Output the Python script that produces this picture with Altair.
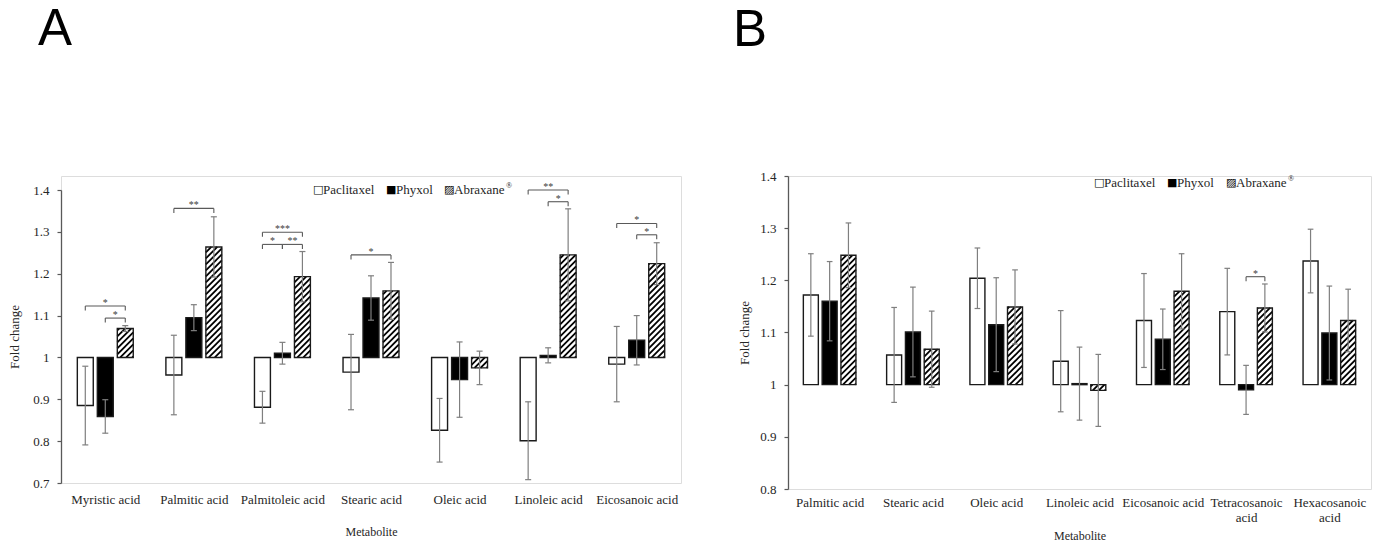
import altair as alt
import pandas as pd

GROUPS = ["Paclitaxel", "Phyxol", "Abraxane"]

# ---------------- Panel A data ----------------
CATS_A = ["Myristic acid", "Palmitic acid", "Palmitoleic acid", "Stearic acid",
          "Oleic acid", "Linoleic acid", "Eicosanoic acid"]
PAC_A = [0.885, 0.958, 0.881, 0.965, 0.826, 0.801, 0.984]
PAC_A_ERR = [0.094, 0.095, 0.038, 0.090, 0.076, 0.093, 0.090]
PHY_A = [0.859, 1.095, 1.010, 1.142, 0.947, 1.005, 1.041]
PHY_A_ERR = [0.040, 0.031, 0.026, 0.053, 0.090, 0.018, 0.059]
ABR_A = [1.069, 1.264, 1.193, 1.159, 0.975, 1.245, 1.224]
ABR_A_ERR = [0.007, 0.072, 0.060, 0.068, 0.040, 0.110, 0.050]

# significance brackets A: category index, from group, to group, level, label
BR_A_CAT = [0, 0, 1, 2, 2, 2, 3, 5, 5, 6, 6]
BR_A_FROM = [0, 1, 0, 0, 0, 1, 0, 0, 1, 0, 1]
BR_A_TO = [2, 2, 2, 2, 1, 2, 2, 2, 2, 2, 2]
BR_A_LEVEL = [1.123, 1.094, 1.356, 1.299, 1.270, 1.270, 1.245, 1.400, 1.372, 1.320, 1.293]
BR_A_LABEL = ["*", "*", "**", "***", "*", "**", "*", "**", "*", "*", "*"]

# ---------------- Panel B data ----------------
CATS_B = ["Palmitic acid", "Stearic acid", "Oleic acid", "Linoleic acid",
          "Eicosanoic acid", "Tetracosanoic|acid", "Hexacosanoic|acid"]
PAC_B = [1.172, 1.057, 1.204, 1.045, 1.123, 1.140, 1.237]
PAC_B_ERR = [0.079, 0.091, 0.058, 0.097, 0.090, 0.083, 0.061]
PHY_B = [1.160, 1.101, 1.115, 1.002, 1.087, 0.990, 1.099]
PHY_B_ERR = [0.076, 0.086, 0.090, 0.070, 0.058, 0.047, 0.090]
ABR_B = [1.248, 1.068, 1.149, 0.989, 1.179, 1.147, 1.123]
ABR_B_ERR = [0.062, 0.073, 0.071, 0.069, 0.072, 0.046, 0.060]

BR_B_CAT = [5]
BR_B_FROM = [1]
BR_B_TO = [2]
BR_B_LEVEL = [1.207]
BR_B_LABEL = ["*"]

LEGEND_SYMBOLS = ["□", "■", "▨"]
LEGEND_LABELS = ["Paclitaxel", "Phyxol", "Abraxane"]

SERIF = "Liberation Serif"
TXT = "#262626"
AXC = "#595959"


def long_df(pac, pac_e, phy, phy_e, abr, abr_e):
    rows = []
    series = [(pac, pac_e), (phy, phy_e), (abr, abr_e)]
    for i in range(len(pac)):
        for g, (vals, errs) in enumerate(series):
            rows.append({"i": i, "g": g, "grp": GROUPS[g], "value": vals[i], "err": errs[i]})
    return pd.DataFrame(rows)


def br_df(cat, fr, to, level, label):
    return pd.DataFrame({"i": cat, "ga": fr, "gb": to, "level": level, "label": label})


def panel(df, bdf, cats, width, height, top, ymin, ymax, yvals, letter, tdx, toffset,
          leg, label_padding, title_padding, ytitle_padding):
    kx = width / 7.0
    ky = (height - top) / (ymax - ymin)
    OFF = 0.2257
    HALF = 0.09
    CAP = 0.034
    S = 6.0  # hatch spacing in px (vertical)

    lab = "split([" + ",".join("'%s'" % c for c in cats) + "][datum.value], '|')"
    xscale = alt.Scale(domain=[-0.5, 6.5], nice=False, zero=False)
    yscale = alt.Scale(domain=[ymin, ymax], nice=False, zero=False, range=[height, top])
    xaxis = alt.Axis(values=list(range(7)), labelExpr=lab, title="Metabolite", grid=False,
                     domain=False, ticks=False, labelFont=SERIF, labelFontSize=13,
                     labelColor=TXT, labelPadding=label_padding, labelOverlap=False,
                     labelFlush=False, labelLineHeight=15, titleFont=SERIF,
                     titleFontSize=12, titleFontWeight="normal", titleColor=TXT,
                     titlePadding=title_padding)
    yaxis = alt.Axis(values=yvals, format=".1~f", title="Fold change", grid=False,
                     tickSize=4, tickColor=AXC, domainColor=AXC, domainWidth=1.3,
                     tickWidth=1.2, labelFont=SERIF, labelFontSize=13, labelColor=TXT,
                     labelPadding=8, titleFont=SERIF, titleFontSize=13,
                     titleFontWeight="normal", titleColor=TXT, titlePadding=ytitle_padding)

    def X(f):
        return alt.X(f, type="quantitative", scale=xscale, axis=xaxis)

    def Y(f):
        return alt.Y(f, type="quantitative", scale=yscale, axis=yaxis)

    base = alt.Chart(df).transform_calculate(
        xc=f"datum.i + (datum.g - 1) * {OFF}",
    ).transform_calculate(
        xl=f"datum.xc - {HALF}", xr=f"datum.xc + {HALF}", base="1",
        elo="datum.value - datum.err", ehi="datum.value + datum.err",
        cl=f"datum.xc - {CAP}", cr=f"datum.xc + {CAP}",
    )

    fills = base.mark_rect(strokeWidth=0).encode(
        x=X("xl"), x2="xr", y=Y("value"), y2="base",
        fill=alt.Fill("grp:N", scale=alt.Scale(domain=GROUPS, range=["white", "black", "white"]),
                      legend=None),
    )

    hatch = base.transform_filter("datum.g == 2").transform_calculate(
        W=f"{2 * HALF} * {kx}",
        H=f"abs(datum.value - 1) * {ky}",
        lo="min(datum.value, 1)",
        ks="sequence(0, 45)",
    ).transform_flatten(["ks"], as_=["k"]).transform_calculate(
        c=f"-datum.W + datum.k * {S} + 1",
    ).transform_calculate(
        us="max(0, -datum.c)", ue="min(datum.W, datum.H - datum.c)",
    ).transform_filter("datum.ue - datum.us > 0.4").transform_calculate(
        hx1=f"datum.xl + datum.us / {kx}",
        hy1=f"datum.lo + (datum.us + datum.c) / {ky}",
        hx2=f"datum.xl + datum.ue / {kx}",
        hy2=f"datum.lo + (datum.ue + datum.c) / {ky}",
    ).mark_rule(color="black", strokeWidth=1.8).encode(
        x=X("hx1"), y=Y("hy1"), x2="hx2", y2="hy2",
    )

    outline = base.mark_rect(fillOpacity=0, stroke="#1a1a1a", strokeWidth=1.4).encode(
        x=X("xl"), x2="xr", y=Y("value"), y2="base",
    )

    err = base.mark_rule(color="#7f7f7f", strokeWidth=1.2).encode(
        x=X("xc"), y=Y("elo"), y2="ehi")
    cap_lo = base.mark_rule(color="#7f7f7f", strokeWidth=1.2).encode(
        x=X("cl"), x2="cr", y=Y("elo"))
    cap_hi = base.mark_rule(color="#7f7f7f", strokeWidth=1.2).encode(
        x=X("cl"), x2="cr", y=Y("ehi"))

    bb = alt.Chart(bdf).transform_calculate(
        xa=f"datum.i + (datum.ga - 1) * {OFF}",
        xb=f"datum.i + (datum.gb - 1) * {OFF}",
        yt=f"datum.level - {4.5 / ky}",
    ).transform_calculate(xm="(datum.xa + datum.xb) / 2")
    br_h = bb.mark_rule(color=AXC, strokeWidth=1.1).encode(x=X("xa"), x2="xb", y=Y("level"))
    br_l = bb.mark_rule(color=AXC, strokeWidth=1.1).encode(x=X("xa"), y=Y("yt"), y2="level")
    br_r = bb.mark_rule(color=AXC, strokeWidth=1.1).encode(x=X("xb"), y=Y("yt"), y2="level")
    stars = bb.mark_text(font=SERIF, fontSize=10, color="#404040", baseline="middle",
                         dy=-3).encode(x=X("xm"), y=Y("level"), text="label:N")

    one = pd.DataFrame({"d": [0]})
    xs, ly, lr = leg
    legend_items = []
    for k in range(3):
        legend_items.append(
            alt.Chart(one).mark_text(text=LEGEND_SYMBOLS[k], font="DejaVu Sans", fontSize=11,
                                     color="black", align="left", baseline="middle").encode(
                x=alt.value(xs[k]), y=alt.value(ly)))
        legend_items.append(
            alt.Chart(one).mark_text(text=LEGEND_LABELS[k], font=SERIF, fontSize=13, color=TXT,
                                     align="left", baseline="middle").encode(
                x=alt.value(xs[k] + 10), y=alt.value(ly)))
    legend_items.append(
        alt.Chart(one).mark_text(text="®", font=SERIF, fontSize=8, color=TXT,
                                 align="left", baseline="middle").encode(
            x=alt.value(lr), y=alt.value(ly - 4)))

    layers = [fills, hatch, outline, err, cap_lo, cap_hi, br_h, br_l, br_r, stars] + legend_items
    return alt.layer(*layers).properties(
        width=width, height=height,
        title=alt.TitleParams(text=letter, font="Liberation Sans", fontSize=51,
                              fontWeight="normal", color="black", anchor="start",
                              frame="group", dx=tdx, offset=toffset),
    )


dfA = long_df(PAC_A, PAC_A_ERR, PHY_A, PHY_A_ERR, ABR_A, ABR_A_ERR)
dfB = long_df(PAC_B, PAC_B_ERR, PHY_B, PHY_B_ERR, ABR_B, ABR_B_ERR)
bA = br_df(BR_A_CAT, BR_A_FROM, BR_A_TO, BR_A_LEVEL, BR_A_LABEL)
bB = br_df(BR_B_CAT, BR_B_FROM, BR_B_TO, BR_B_LEVEL, BR_B_LABEL)

panelA = panel(dfA, bA, CATS_A, 620, 307, 14, 0.7, 1.4,
               [0.7, 0.8, 0.9, 1.0, 1.1, 1.2, 1.3, 1.4], "A", -23, 120,
               ([252, 325, 383], 14, 445), 10, 20, 11)
panelB = panel(dfB, bB, CATS_B, 583, 313, 0, 0.8, 1.4,
               [0.8, 0.9, 1.0, 1.1, 1.2, 1.3, 1.4], "B", -55, 113,
               ([306, 379, 438], 7, 500), 7, 6, 8)

chart = alt.hconcat(panelA, panelB, spacing=50).properties(
    padding={"left": 0, "top": -5, "right": 0, "bottom": 0}
).configure_view(stroke=None).configure(background="white")

chart.save("out.html", embed_options={"renderer": "svg", "actions": False})
